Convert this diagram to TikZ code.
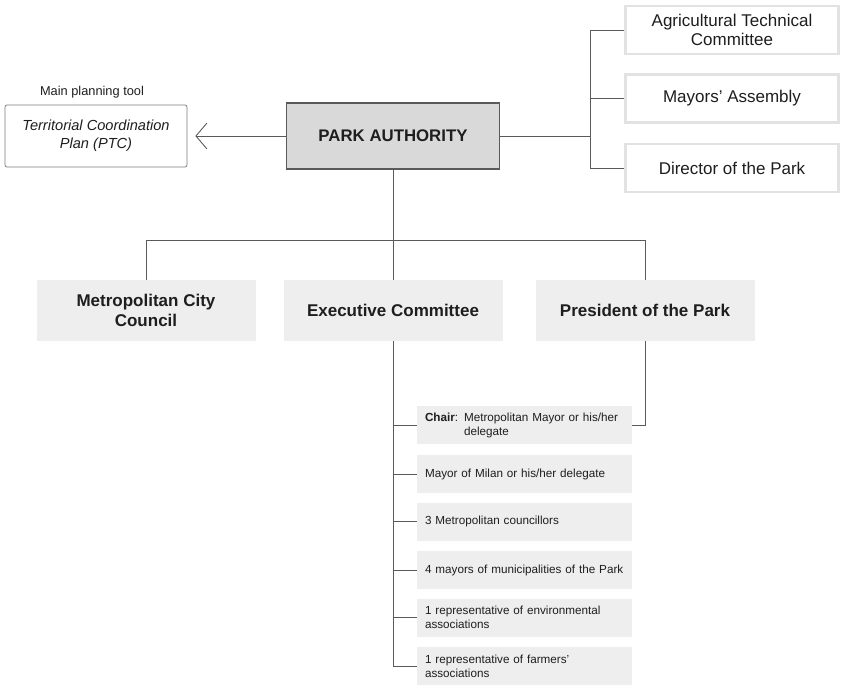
\documentclass[tikz,border=0pt]{standalone}
\usepackage{fontspec}
\setmainfont{Liberation Sans}
\usepackage{tikz}
\usetikzlibrary{arrows.meta}
\usetikzlibrary{calc}

\definecolor{linegray}{HTML}{5A5A5A}
\definecolor{pafill}{HTML}{D9D9D9}
\definecolor{boxfill}{HTML}{EEEEEE}
\definecolor{rimgray}{HTML}{E2E2E2}
\definecolor{textdark}{HTML}{1E1E1E}

\tikzset{
  conn/.style={draw=linegray, line width=0.9pt},
  pabox/.style={draw=linegray, line width=1.1pt, fill=pafill, minimum width=213pt, minimum height=66pt, font=\fontsize{16.8}{19}\selectfont\bfseries},
  ptcbox/.style={draw=linegray!80, line width=0.7pt, rounded corners=2pt, minimum width=182pt, minimum height=62pt, align=center, font=\fontsize{14.6}{18}\selectfont\itshape},
  sidebox/.style={draw=rimgray, line width=2.5pt, fill=white, minimum width=213pt, minimum height=48pt, align=center, font=\fontsize{17}{19}\selectfont},
  unitbox/.style={fill=boxfill, minimum width=219pt, minimum height=61pt, align=center, font=\fontsize{17}{20}\selectfont\bfseries},
  memberbox/.style={fill=boxfill, text width=199pt, inner xsep=8pt, minimum height=38pt, align=left, font=\fontsize{11.7}{14}\selectfont}
}

\begin{document}
\begin{tikzpicture}[x=1pt,y=-1pt,every node/.style={text=textdark}]
\useasboundingbox (0,0) rectangle (842,687);

% top row
\node[pabox] (pa) at (393,136) {PARK AUTHORITY};
\node[ptcbox] (ptc) at (96,136) {Territorial Coordination\\Plan (PTC)};
\node[font=\fontsize{12.8}{15}\selectfont] (tool) at (92,92) {Main planning tool};
\draw[conn,-{Straight Barb[length=11pt,width=26pt,line width=0.9pt]},shorten >=8pt] (pa.west) -- (ptc.east);

% bodies on the right
\node[sidebox] (agri) at (732,30) {Agricultural Technical\\Committee};
\node[sidebox] (mayors) at (732,98.5) {Mayors' Assembly};
\node[sidebox] (dir) at (732,168) {Director of the Park};
\coordinate (rj) at (590,136);
\draw[conn] (pa.east) -- (rj);
\draw[conn] (rj |- agri.west) -- (rj |- dir.west);
\foreach \n in {agri,mayors,dir}
	\draw[conn] (rj |- \n.west) -- (\n.west);

% organs
\node[unitbox] (council) at (146,310.5) {Metropolitan City\\Council};
\node[unitbox] (exec) at (393,310.5) {Executive Committee};
\node[unitbox] (pres) at (645,310.5) {President of the Park};
\coordinate (tj) at (393,240);
\draw[conn] (pa.south) -- (tj);
\draw[conn] (council.north |- tj) -- (pres.north |- tj);
\foreach \n in {council,exec,pres}
	\draw[conn] (\n.north |- tj) -- (\n.north);

% members of the executive committee
\node[memberbox] (m1) at (524.5,425) {\textbf{Chair}: Metropolitan Mayor or his/her\\\phantom{\textbf{Chair}: }delegate};
\node[memberbox] (m2) at (524.5,474) {Mayor of Milan or his/her delegate};
\node[memberbox] (m3) at (524.5,521.5) {3 Metropolitan councillors};
\node[memberbox] (m4) at (524.5,570) {4 mayors of municipalities of the Park};
\node[memberbox] (m5) at (524.5,617.5) {1 representative of environmental\\associations};
\node[memberbox] (m6) at (524.5,666) {1 representative of farmers'\\associations};
\draw[conn] (exec.south) -- (exec.south |- m6.west);
\foreach \n in {m1,m2,m3,m4,m5,m6}
	\draw[conn] (exec.south |- \n.west) -- (\n.west);
\draw[conn] (pres.south) |- (m1.east);
\end{tikzpicture}
\end{document}
